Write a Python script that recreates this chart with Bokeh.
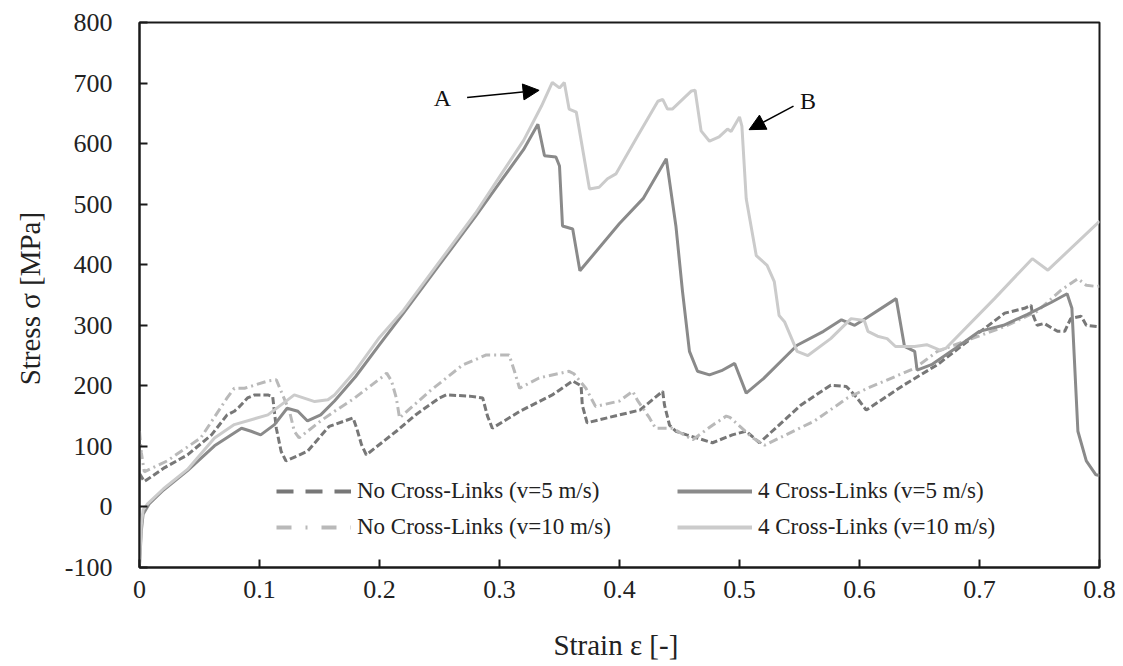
from bokeh.plotting import figure
from bokeh.models import (Legend, LegendItem, Arrow, NormalHead, Label, FixedTicker,
                          CustomJSTickFormatter, Range1d)
from bokeh.embed import file_html
from bokeh.resources import INLINE

# ---------------- data ----------------
nocl_v5_x = [0, 0.004, 0.021, 0.04, 0.06, 0.073, 0.079, 0.083, 0.09, 0.096, 0.107, 0.111,
             0.114, 0.118, 0.122, 0.14, 0.158, 0.178, 0.181, 0.185, 0.189, 0.214, 0.23, 0.25,
             0.2556, 0.275, 0.286, 0.29, 0.294, 0.317, 0.344, 0.361, 0.368, 0.369, 0.373, 0.4,
             0.417, 0.436, 0.4375, 0.4417, 0.447, 0.456, 0.4775, 0.494, 0.5055, 0.5167, 0.551,
             0.576, 0.589, 0.593, 0.598, 0.6056, 0.6375, 0.665, 0.693, 0.721, 0.7375, 0.743,
             0.744, 0.748, 0.754, 0.765, 0.771, 0.776, 0.7847, 0.789, 0.798, 0.8]
nocl_v5_y = [55, 42, 65, 86, 119, 152, 158, 165, 180, 185, 185, 182,
             130, 92, 76, 92, 133, 147, 130, 103, 86, 125, 152, 180,
             185, 183, 180, 150, 130, 158, 185, 208, 200, 168, 139, 152,
             160, 191, 168, 135, 125, 119, 106, 119, 125, 106, 168,
             201, 199, 191, 180, 160, 202, 235, 278, 320, 328, 333,
             320, 300, 303, 290, 290, 311, 315, 300, 298, 300]

nocl_v10_x = [0, 0.0015, 0.004, 0.023, 0.051, 0.073, 0.079, 0.0875, 0.107, 0.114, 0.118,
              0.125, 0.129, 0.133, 0.151, 0.1625, 0.178, 0.2025, 0.206, 0.21, 0.214, 0.2167,
              0.2417, 0.269, 0.289, 0.308, 0.3125, 0.3167, 0.333, 0.358, 0.362, 0.372, 0.38,
              0.4, 0.411, 0.415, 0.425, 0.43, 0.444, 0.461, 0.4775, 0.489, 0.492, 0.511, 0.521,
              0.5625, 0.59, 0.6067, 0.646, 0.665, 0.721, 0.748, 0.768, 0.782, 0.789, 0.798, 0.8]
nocl_v10_y = [125, 90, 58, 76, 114, 180, 196, 196, 208, 210, 191,
              158, 125, 114, 142, 158, 178, 215, 221, 208, 180, 147,
              191, 234, 251, 251, 224, 196, 213, 224, 220, 196, 166,
              175, 191, 176, 147, 130, 130, 111, 135, 150, 148, 114, 102,
              142, 180, 196, 229, 257, 298, 323, 358, 377, 366, 364, 365]

cl4_v5_x = [0, 0.0015, 0.003, 0.008, 0.02, 0.04, 0.0625, 0.085, 0.093, 0.101, 0.1125,
            0.123, 0.132, 0.14, 0.151, 0.1625, 0.18, 0.2, 0.22, 0.25, 0.28, 0.3, 0.32,
            0.332, 0.3375, 0.347, 0.35, 0.3525, 0.361, 0.367, 0.4, 0.42, 0.439, 0.447,
            0.4525, 0.4583, 0.465, 0.475, 0.485, 0.496, 0.5056, 0.52, 0.548, 0.57, 0.585,
            0.596, 0.6025, 0.6306, 0.6375, 0.646, 0.648, 0.66, 0.68, 0.7, 0.72, 0.74,
            0.76, 0.773, 0.777, 0.782, 0.789, 0.797, 0.8]
cl4_v5_y = [-98, -40, -12, 5, 28, 60, 101, 130, 125, 119, 136,
            163, 158, 142, 152, 175, 215, 268, 320, 400, 480, 535, 590,
            632, 580, 578, 563, 464, 459, 390, 468, 510, 575, 464,
            356, 257, 224, 218, 225, 237, 188, 212, 267, 290, 309,
            300, 308, 344, 265, 257, 226, 235, 262, 290, 300, 318,
            338, 352, 328, 125, 76, 53, 52]

cl4_v10_x = [0, 0.0015, 0.003, 0.0067, 0.02, 0.04, 0.0625, 0.079, 0.107, 0.129, 0.146,
             0.157, 0.1625, 0.18, 0.2, 0.22, 0.25, 0.28, 0.3, 0.32, 0.335, 0.344, 0.35,
             0.354, 0.358, 0.364, 0.375, 0.383, 0.39, 0.397, 0.415, 0.432, 0.436, 0.44,
             0.444, 0.46, 0.463, 0.468, 0.475, 0.483, 0.49, 0.493, 0.5, 0.502, 0.5056,
             0.514, 0.523, 0.529, 0.533, 0.5375, 0.548, 0.557, 0.576, 0.593, 0.604, 0.607,
             0.615, 0.623, 0.63, 0.646, 0.656, 0.667, 0.672, 0.7125, 0.744, 0.757, 0.798, 0.8]
cl4_v10_y = [-95, -30, -5, 5, 30, 62, 114, 136, 152, 185, 174,
             177, 185, 225, 280, 325, 405, 485, 545, 605, 662, 701, 692,
             701, 657, 652, 525, 528, 542, 550, 612, 670, 673, 657,
             657, 687, 688, 621, 604, 611, 624, 620, 644, 629, 509,
             415, 399, 372, 316, 306, 257, 250, 278, 311, 308, 290,
             282, 278, 265, 265, 268, 259, 262, 344, 410, 391, 468, 472]

x_ticks = [0, 0.1, 0.2, 0.3, 0.4, 0.5, 0.6, 0.7, 0.8]
y_ticks = [-100, 0, 100, 200, 300, 400, 500, 600, 700, 800]

labels = ["No Cross-Links (v=5 m/s)", "No Cross-Links (v=10 m/s)",
          "4 Cross-Links (v=5 m/s)", "4 Cross-Links (v=10 m/s)"]

# annotation anchors (data coordinates)
arrow_a = dict(x_start=0.273, y_start=676, x_end=0.333, y_end=688)
arrow_b = dict(x_start=0.545, y_start=662, x_end=0.508, y_end=623)
text_a = (0.2525, 676)
text_b = (0.557, 671)

# ---------------- styling ----------------
FONT = "Liberation Serif"
C_DASH = "#777777"
C_DASHDOT = "#b9b9b9"
C_SOLID_DARK = "#8a8a8a"
C_SOLID_LIGHT = "#cbcbcb"

p = figure(width=1118, height=663, output_backend="svg", toolbar_location=None,
           x_range=Range1d(0, 0.8), y_range=Range1d(-100, 800),
           min_border_left=139, min_border_right=19, min_border_top=22,
           min_border_bottom=94)
p.grid.visible = False
p.outline_line_color = "#1a1a1a"
p.outline_line_width = 2
p.background_fill_color = "white"
p.border_fill_color = "white"

r_nocl5 = p.line(nocl_v5_x, nocl_v5_y, line_color=C_DASH, line_width=3, line_dash="7 3")
r_nocl10 = p.line(nocl_v10_x, nocl_v10_y, line_color=C_DASHDOT, line_width=3, line_dash="9 4 2 4")
r_cl5 = p.line(cl4_v5_x, cl4_v5_y, line_color=C_SOLID_DARK, line_width=3)
r_cl10 = p.line(cl4_v10_x, cl4_v10_y, line_color=C_SOLID_LIGHT, line_width=3)

# legend proxies (single point: nothing visible in the plot) with the legend's longer dashes
lg_nocl5 = p.line(nocl_v5_x[:1], nocl_v5_y[:1], line_color=C_DASH, line_width=4, line_dash="17 12")
lg_nocl10 = p.line(nocl_v10_x[:1], nocl_v10_y[:1], line_color=C_DASHDOT, line_width=4,
                   line_dash="15 14 2 14")
lg_cl5 = p.line(cl4_v5_x[:1], cl4_v5_y[:1], line_color=C_SOLID_DARK, line_width=4)
lg_cl10 = p.line(cl4_v10_x[:1], cl4_v10_y[:1], line_color=C_SOLID_LIGHT, line_width=4)

for ax in (p.xaxis[0], p.yaxis[0]):
    ax.axis_line_color = "#1a1a1a"
    ax.axis_line_width = 2
    ax.major_tick_line_color = "#1a1a1a"
    ax.major_tick_line_width = 2
    ax.major_tick_in = 8
    ax.major_tick_out = 0
    ax.minor_tick_line_color = None
    ax.major_label_text_font = FONT
    ax.major_label_text_font_size = "26px"
    ax.major_label_text_color = "#222222"
    ax.axis_label_text_font = FONT
    ax.axis_label_text_font_size = "29px"
    ax.axis_label_text_font_style = "normal"
    ax.axis_label_text_color = "#222222"

p.xaxis.ticker = FixedTicker(ticks=x_ticks)
p.yaxis.ticker = FixedTicker(ticks=y_ticks)
p.xaxis.formatter = CustomJSTickFormatter(code="return (Math.round(tick*10)/10).toString();")
p.yaxis.formatter = CustomJSTickFormatter(code="return Math.round(tick).toString();")
p.xaxis.major_label_standoff = 13
p.yaxis.major_label_standoff = 27
p.xaxis.axis_label = "Strain  ε [-]"
p.yaxis.axis_label = "Stress  σ [MPa]"
p.xaxis.axis_label_standoff = 28
p.yaxis.axis_label_standoff = 16


def make_legend(items, loc):
    lg = Legend(items=items, location=loc, orientation="vertical")
    lg.label_text_font = FONT
    lg.label_text_font_size = "23px"
    lg.label_text_color = "#222222"
    lg.glyph_width = 75
    lg.glyph_height = 30
    lg.label_height = 30
    lg.spacing = 6
    lg.label_standoff = 6
    lg.padding = 0
    lg.margin = 0
    lg.border_line_alpha = 0
    lg.background_fill_alpha = 0
    return lg


leg_left = make_legend([LegendItem(label=labels[0], renderers=[lg_nocl5]),
                        LegendItem(label=labels[1], renderers=[lg_nocl10])], (137, 25))
leg_right = make_legend([LegendItem(label=labels[2], renderers=[lg_cl5]),
                         LegendItem(label=labels[3], renderers=[lg_cl10])], (538, 25))
p.add_layout(leg_left)
p.add_layout(leg_right)

head = dict(size=16, fill_color="black", line_color="black")
p.add_layout(Arrow(end=NormalHead(**head), line_color="black", line_width=1.5, **arrow_a))
p.add_layout(Arrow(end=NormalHead(**head), line_color="black", line_width=1.5, **arrow_b))
p.add_layout(Label(x=text_a[0], y=text_a[1], text="A", text_font=FONT, text_font_size="24px",
                   text_align="center", text_baseline="middle", text_color="#111111"))
p.add_layout(Label(x=text_b[0], y=text_b[1], text="B", text_font=FONT, text_font_size="24px",
                   text_align="center", text_baseline="middle", text_color="#111111"))

open("out.html", "w").write(file_html(p, INLINE))
